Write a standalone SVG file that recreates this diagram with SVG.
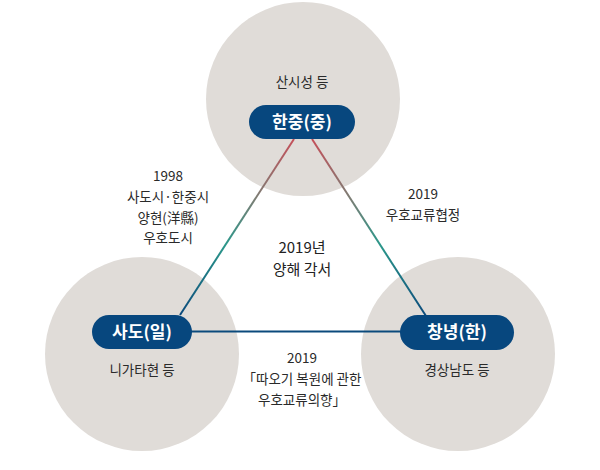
<svg xmlns="http://www.w3.org/2000/svg" width="600" height="470" viewBox="0 0 600 470">
<style>
.c{fill:#e0dcd8}
.p{fill:#07477e}
.pt{font-family:"Noto Sans CJK KR","Noto Sans",sans-serif;font-size:17px;font-weight:700;fill:#fff;text-anchor:middle}
.t{font-family:"Noto Sans CJK KR","Noto Sans",sans-serif;font-size:13.5px;fill:#2a2a2a;text-anchor:middle}
.b{font-family:"Noto Sans CJK KR","Noto Sans",sans-serif;font-size:15px;fill:#222;text-anchor:middle}
.ln{fill:none;stroke-width:2}
</style>
<defs>
<linearGradient id="gl" gradientUnits="userSpaceOnUse" x1="294" y1="140" x2="180" y2="315">
<stop offset="0" stop-color="#c4505a"/>
<stop offset="0.33" stop-color="#7d7d74"/>
<stop offset="0.6" stop-color="#2b978a"/>
<stop offset="1" stop-color="#0b4a7c"/>
</linearGradient>
<linearGradient id="gr" gradientUnits="userSpaceOnUse" x1="312" y1="140" x2="426" y2="315">
<stop offset="0" stop-color="#c4505a"/>
<stop offset="0.33" stop-color="#7d7d74"/>
<stop offset="0.6" stop-color="#2b978a"/>
<stop offset="1" stop-color="#0b4a7c"/>
</linearGradient>
</defs>
<rect width="600" height="470" fill="#fff"/>
<g id="circles">
<circle class="c" cx="303" cy="99" r="97"/>
<circle class="c" cx="142" cy="354" r="97"/>
<circle class="c" cx="458" cy="354" r="97"/>
</g>
<g id="connectors">
<line class="ln" x1="294" y1="139" x2="180" y2="315" stroke="url(#gl)"/>
<line class="ln" x1="312" y1="139" x2="426" y2="316" stroke="url(#gr)"/>
<line class="ln" x1="191" y1="331.5" x2="401" y2="331.5" stroke="#0b4a7c"/>
</g>
<g id="hanjung">
<rect class="p" x="249" y="105" width="106" height="34" rx="17"/>
<text class="pt" x="302" y="128">한중(중)</text>
<text class="t" x="302" y="87">산시성 등</text>
</g>
<g id="sado">
<rect class="p" x="92" y="315" width="100" height="34" rx="17"/>
<text class="pt" x="142" y="338">사도(일)</text>
<text class="t" x="142" y="375">니가타현 등</text>
</g>
<g id="changnyeong">
<rect class="p" x="400" y="315" width="114" height="35" rx="17.5"/>
<text class="pt" x="457" y="338">창녕(한)</text>
<text class="t" x="457" y="375">경상남도 등</text>
</g>
<g id="labels">
<text class="t" x="168" y="181">1998</text>
<text class="t" x="168" y="202">사도시·한중시</text>
<text class="t" x="168" y="223">양현(洋縣)</text>
<text class="t" x="168" y="243">우호도시</text>
<text class="t" x="423" y="199">2019</text>
<text class="t" x="423" y="220">우호교류협정</text>
<text class="b" x="302" y="253">2019년</text>
<text class="b" x="302" y="275">양해 각서</text>
<text class="t" x="302" y="363">2019</text>
<text class="t" x="302" y="384">「따오기 복원에 관한</text>
<text class="t" x="302" y="405">우호교류의향」</text>
</g>
</svg>
